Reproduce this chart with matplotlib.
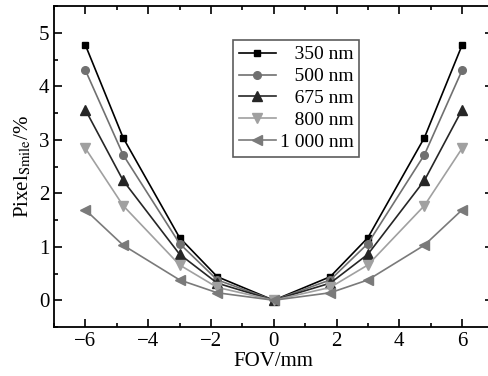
import matplotlib.pyplot as plt
from matplotlib.ticker import MultipleLocator

plt.rcParams['font.family'] = ['Liberation Serif', 'DejaVu Serif']
plt.rcParams['mathtext.fontset'] = 'stix'

# datos
fov = [-6, -4.8, -3, -1.8, 0, 1.8, 3, 4.8, 6]
s350 = [4.77, 3.04, 1.17, 0.44, 0.0, 0.44, 1.17, 3.04, 4.77]
s500 = [4.30, 2.72, 1.06, 0.38, 0.0, 0.38, 1.06, 2.72, 4.30]
s675 = [3.56, 2.24, 0.86, 0.32, 0.0, 0.32, 0.86, 2.24, 3.56]
s800 = [2.84, 1.77, 0.66, 0.24, 0.0, 0.24, 0.66, 1.77, 2.84]
s1000 = [1.69, 1.03, 0.38, 0.14, 0.0, 0.14, 0.38, 1.03, 1.69]
etiquetas = ['   350 nm', '   500 nm', '   675 nm', '   800 nm', '1 000 nm']

fig = plt.figure(figsize=(4.89, 3.76), dpi=100)
ax = fig.add_axes([54 / 489, 1 - 327 / 376, (493.5 - 54) / 489, (327 - 6) / 376])

series = [s350, s500, s675, s800, s1000]
marcadores = ['s', 'o', '^', 'v', '<']
colores = ['#000000', '#707070', '#262626', '#a0a0a0', '#7a7a7a']
tamanos = [5, 5.5, 7, 7, 7]
for ys, m, c, ms, lab in zip(series, marcadores, colores, tamanos, etiquetas):
    ax.plot(fov, ys, marker=m, color=c, markersize=ms, linewidth=1.2, label=lab)

ax.set_xlim(-7, 7)
ax.set_ylim(-0.5, 5.5)
ax.xaxis.set_major_locator(MultipleLocator(2))
ax.xaxis.set_minor_locator(MultipleLocator(1))
ax.yaxis.set_major_locator(MultipleLocator(1))
ax.yaxis.set_minor_locator(MultipleLocator(0.5))
ax.tick_params(which='both', direction='in', top=True, right=True, labelsize=15, width=1.2)
ax.tick_params(which='major', length=6)
ax.tick_params(which='minor', length=3)
ax.xaxis.set_major_formatter(plt.FuncFormatter(lambda v, p: f'{v:.0f}'.replace('-', '\u2212')))
for s in ax.spines.values():
    s.set_linewidth(1.3)

ax.set_xlabel('FOV/mm', fontsize=15, labelpad=1)
ax.set_ylabel(r'Pixel$_{\mathrm{Smile}}$/%', fontsize=15, labelpad=4)

leg = ax.legend(loc='upper left', bbox_to_anchor=((233 - 54) / 439.5, 1 - 34 / 321),
                fontsize=14, frameon=True, fancybox=False, edgecolor='#333333',
                handlelength=1.9, handletextpad=0.2, labelspacing=0.22,
                borderpad=0.3, borderaxespad=0)
leg.get_frame().set_linewidth(1.2)

plt.savefig('out.png', dpi=100)
plt.close()
